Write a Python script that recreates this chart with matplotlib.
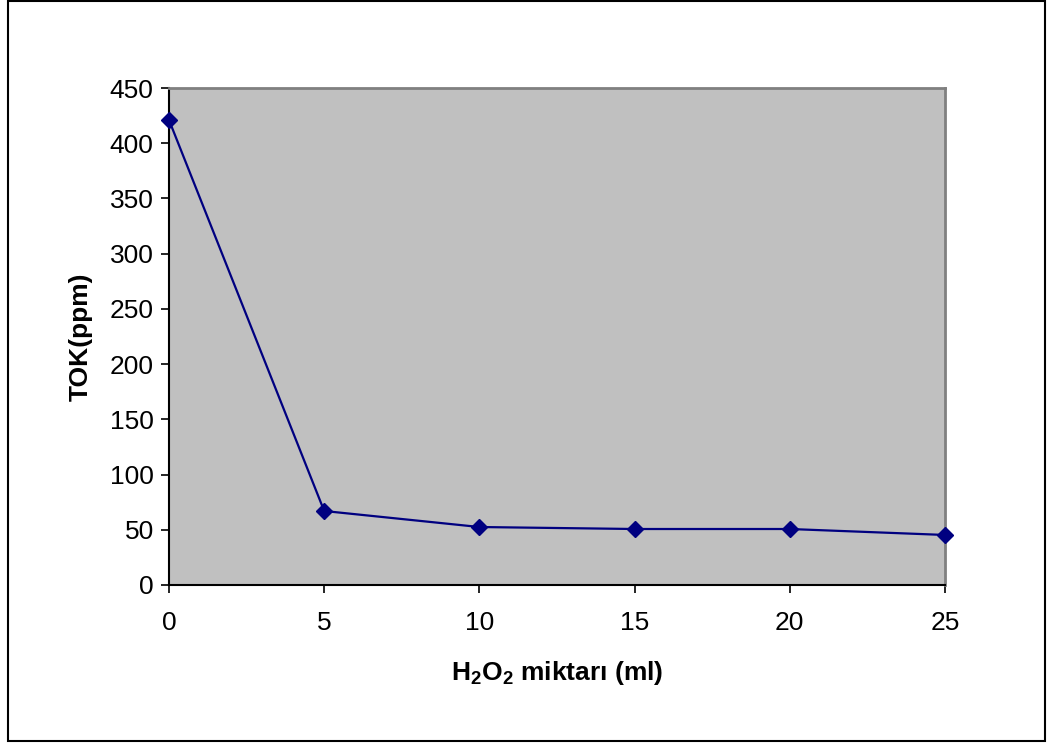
import matplotlib
matplotlib.use('Agg')
import matplotlib.pyplot as plt
from matplotlib.patches import Rectangle

plt.rcParams['font.family'] = ['Liberation Sans', 'DejaVu Sans']
plt.rcParams['mathtext.fontset'] = 'custom'
plt.rcParams['mathtext.rm'] = 'Liberation Sans:bold'
plt.rcParams['mathtext.bf'] = 'Liberation Sans:bold'

h2o2_ml = [0, 5, 10, 15, 20, 25]
tok_ppm = [421, 67, 52.5, 50.7, 50.7, 45.3]
x_ticks = [0, 5, 10, 15, 20, 25]
y_ticks = [0, 50, 100, 150, 200, 250, 300, 350, 400, 450]

fig = plt.figure(figsize=[10.47, 7.44], dpi=100)
ax = fig.add_axes([169/1047, 159/744, 776/1047, 497/744])
ax.set_facecolor('#C0C0C0')

ax.plot(h2o2_ml, tok_ppm, color='#000080', linewidth=1.6, marker='D',
        markersize=8.5, markerfacecolor='#000080', markeredgecolor='#000080',
        clip_on=False, zorder=5)

ax.set_xlim(0, 25)
ax.set_ylim(0, 450)
ax.set_xticks(x_ticks)
ax.set_yticks(y_ticks)
ax.tick_params(axis='both', direction='out', length=6, width=1.2,
               labelsize=19, color='black')
ax.tick_params(axis='x', pad=13)
ax.tick_params(axis='y', pad=5)

for side in ['left', 'bottom']:
    ax.spines[side].set_color('black')
    ax.spines[side].set_linewidth(1.5)
for side in ['top', 'right']:
    ax.spines[side].set_color('#808080')
    ax.spines[side].set_linewidth(2)

ax.set_ylabel('TOK(ppm)', fontsize=19, fontweight='bold', labelpad=12)
ax.set_xlabel('H$_\\mathbf{2}$O$_\\mathbf{2}$ miktarı (ml)', fontsize=19,
              fontweight='bold', labelpad=17)

frame = Rectangle((8/1047, 3/744), 1037/1047, 740/744, transform=fig.transFigure,
                  fill=False, edgecolor='black', linewidth=1.5)
fig.patches.append(frame)

fig.savefig('out.png', dpi=100)
